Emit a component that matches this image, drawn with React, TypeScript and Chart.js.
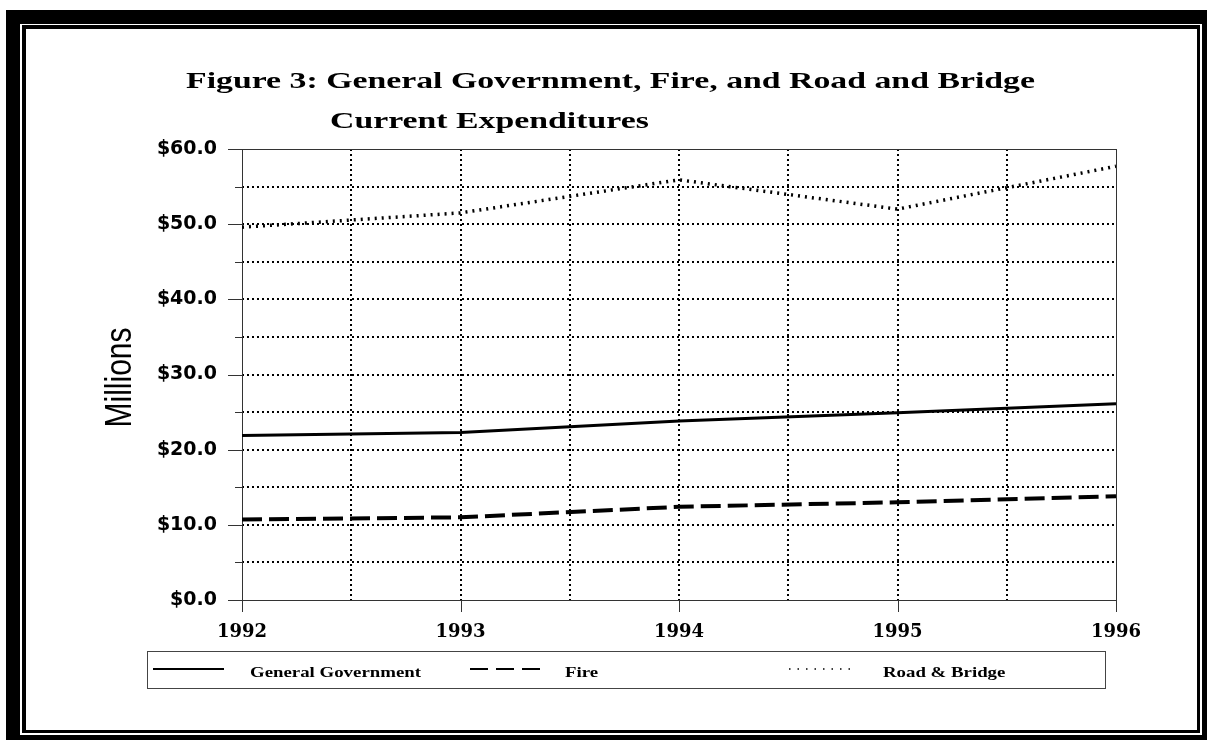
import React, { useEffect, useRef } from 'react';
import { Chart, registerables } from 'chart.js';

Chart.register(...registerables);

// ---- data ----
const years = [1992, 1993, 1994, 1995, 1996];
const generalGovernment = [21.9, 22.3, 23.8, 24.9, 26.1];
const fire = [10.7, 11.0, 12.4, 13.0, 13.8];
const roadBridge = [49.6, 51.5, 55.9, 52.0, 57.7];
const seriesLabels = ['General Government', 'Fire', 'Road & Bridge'];
const titleLines = ['Figure 3: General Government, Fire, and Road and Bridge', 'Current Expenditures'];
const yAxisTitle = 'Millions';
const yMin = 0;
const yMax = 60;
const yStep = 5;
const yLabelEvery = 10;

function measure(ctx: CanvasRenderingContext2D, text: string, font: string) {
  ctx.save();
  ctx.font = font;
  const w = ctx.measureText(text).width;
  ctx.restore();
  return w;
}

function drawStretched(ctx: CanvasRenderingContext2D, text: string, x: number, y: number, font: string, sx: number) {
  ctx.save();
  ctx.font = font;
  ctx.translate(x, y);
  ctx.scale(sx, 1);
  ctx.textAlign = 'left';
  ctx.textBaseline = 'alphabetic';
  ctx.fillStyle = '#000';
  ctx.fillText(text, 0, 0);
  ctx.restore();
}

const TITLE_FONT = 'bold 23.5px "Liberation Serif"';
const LEGEND_FONT = 'bold 14.5px "Liberation Serif"';

const decorPlugin = {
  id: 'decor',
  beforeDraw(chart: any) {
    const ctx: CanvasRenderingContext2D = chart.ctx;
    ctx.save();
    ctx.fillStyle = '#fff';
    ctx.fillRect(0, 0, 1207, 740);
    ctx.fillStyle = '#000';
    ctx.fillRect(6, 10, 1201, 730);
    ctx.fillStyle = '#fff';
    ctx.fillRect(20, 24, 1182, 711);
    ctx.fillStyle = '#000';
    ctx.fillRect(22, 25, 1178, 708);
    ctx.fillStyle = '#fff';
    ctx.fillRect(26, 29, 1171, 701);
    ctx.restore();
  },
  beforeDatasetsDraw(chart: any) {
    const ctx: CanvasRenderingContext2D = chart.ctx;
    const { left, top, right, bottom } = chart.chartArea;
    const xs = chart.scales.x;
    const ys = chart.scales.y;
    ctx.save();
    ctx.strokeStyle = '#333';
    ctx.lineWidth = 1;
    ctx.setLineDash([]);
    ctx.strokeRect(Math.round(left) + 0.5, Math.round(top) + 0.5, Math.round(right - left), Math.round(bottom - top));
    ctx.beginPath();
    ys.ticks.forEach((t: any) => {
      const py = Math.round(ys.getPixelForValue(t.value)) + 0.5;
      const len = t.value % yLabelEvery === 0 ? 14 : 7;
      ctx.moveTo(left - len, py);
      ctx.lineTo(left, py);
    });
    xs.ticks.forEach((t: any) => {
      if (!Number.isInteger(t.value)) return;
      const px = Math.round(xs.getPixelForValue(t.value)) + 0.5;
      ctx.moveTo(px, bottom);
      ctx.lineTo(px, bottom + 12);
    });
    ctx.stroke();
    ctx.restore();
  },
  afterDraw(chart: any) {
    const ctx: CanvasRenderingContext2D = chart.ctx;
    const ys = chart.scales.y;
    // title (horizontally stretched serif bold)
    const sx = 849 / measure(ctx, titleLines[0], TITLE_FONT);
    drawStretched(ctx, titleLines[0], 186, 88, TITLE_FONT, sx);
    drawStretched(ctx, titleLines[1], 330, 128, TITLE_FONT, sx);
    // y axis title, rotated
    ctx.save();
    ctx.translate(121, (ys.top + ys.bottom) / 2 + 3);
    ctx.rotate(-Math.PI / 2);
    ctx.scale(1, 1.2);
    ctx.font = '30px "Liberation Sans"';
    ctx.textAlign = 'center';
    ctx.textBaseline = 'middle';
    ctx.fillStyle = '#000';
    ctx.fillText(yAxisTitle, 0, 0);
    ctx.restore();
    // legend
    ctx.save();
    ctx.strokeStyle = '#444';
    ctx.lineWidth = 1;
    ctx.strokeRect(147.5, 651.5, 958, 37);
    const samples = [
      { x0: 153, x1: 224, dash: [] as number[], w: 2 },
      { x0: 470, x1: 541, dash: [18, 8], w: 2 },
      { x0: 789, x1: 857, dash: [1.5, 7], w: 1.5 },
    ];
    const textX = [250, 565, 883];
    const lsx = 171 / measure(ctx, seriesLabels[0], LEGEND_FONT);
    chart.data.datasets.forEach((ds: any, i: number) => {
      const s = samples[i];
      ctx.beginPath();
      ctx.setLineDash(s.dash);
      ctx.lineWidth = s.w;
      ctx.strokeStyle = '#000';
      ctx.moveTo(s.x0, 669);
      ctx.lineTo(s.x1, 669);
      ctx.stroke();
      drawStretched(ctx, ds.label, textX[i], 676.5, LEGEND_FONT, lsx);
    });
    ctx.restore();
  },
};

export default function App() {
  const ref = useRef<HTMLCanvasElement>(null);
  useEffect(() => {
    if (!ref.current) return;
    const mk = (vals: number[]) => years.map((x, i) => ({ x, y: vals[i] }));
    const chart = new Chart(ref.current, {
      type: 'line',
      data: {
        datasets: [
          { label: seriesLabels[0], data: mk(generalGovernment), borderColor: '#000', borderWidth: 3, pointRadius: 0, fill: false, tension: 0 },
          { label: seriesLabels[1], data: mk(fire), borderColor: '#000', borderWidth: 4, borderDash: [20, 7], pointRadius: 0, fill: false, tension: 0 },
          { label: seriesLabels[2], data: mk(roadBridge), borderColor: '#000', borderWidth: 3.5, borderDash: [2, 5], pointRadius: 0, fill: false, tension: 0 },
        ],
      },
      options: {
        responsive: false,
        animation: false,
        events: [],
        layout: { padding: { left: 0, top: 149, right: 91, bottom: 90 } },
        plugins: { legend: { display: false }, title: { display: false }, tooltip: { enabled: false } },
        scales: {
          x: {
            type: 'linear',
            min: years[0],
            max: years[years.length - 1],
            afterFit: (s: any) => { s.height = 50; },
            ticks: {
              stepSize: 0.5,
              autoSkip: false,
              maxRotation: 0,
              padding: 22,
              color: '#000',
              font: { family: 'DejaVu Serif', weight: 'bold', size: 18 },
              callback: (v: any) => (Number.isInteger(v) ? String(v) : ''),
            },
            grid: {
              drawTicks: false,
              lineWidth: 2,
              color: (c: any) => (c.tick && (c.tick.value === years[0] || c.tick.value === years[years.length - 1]) ? 'rgba(0,0,0,0)' : '#000'),
            },
            border: { display: false, dash: [2, 3] },
          },
          y: {
            min: yMin,
            max: yMax,
            afterFit: (s: any) => { s.width = 242; },
            ticks: {
              stepSize: yStep,
              autoSkip: false,
              padding: 25,
              color: '#000',
              font: { family: 'DejaVu Sans', weight: 'bold', size: 19 },
              callback: (v: any) => (v % yLabelEvery === 0 ? '$' + Number(v).toFixed(1) : ''),
            },
            grid: {
              drawTicks: false,
              lineWidth: 2,
              color: (c: any) => (c.tick && (c.tick.value === yMin || c.tick.value === yMax) ? 'rgba(0,0,0,0)' : '#000'),
            },
            border: { display: false, dash: [2, 3] },
            title: { display: false },
          },
        },
      },
      plugins: [decorPlugin],
    } as any);
    return () => chart.destroy();
  }, []);
  return (
    <div style={{ position: 'fixed', left: 0, top: 0, width: 1207, height: 740, background: '#fff' }}>
      <canvas ref={ref} width={1207} height={740} style={{ display: 'block', width: 1207, height: 740 }} />
    </div>
  );
}
